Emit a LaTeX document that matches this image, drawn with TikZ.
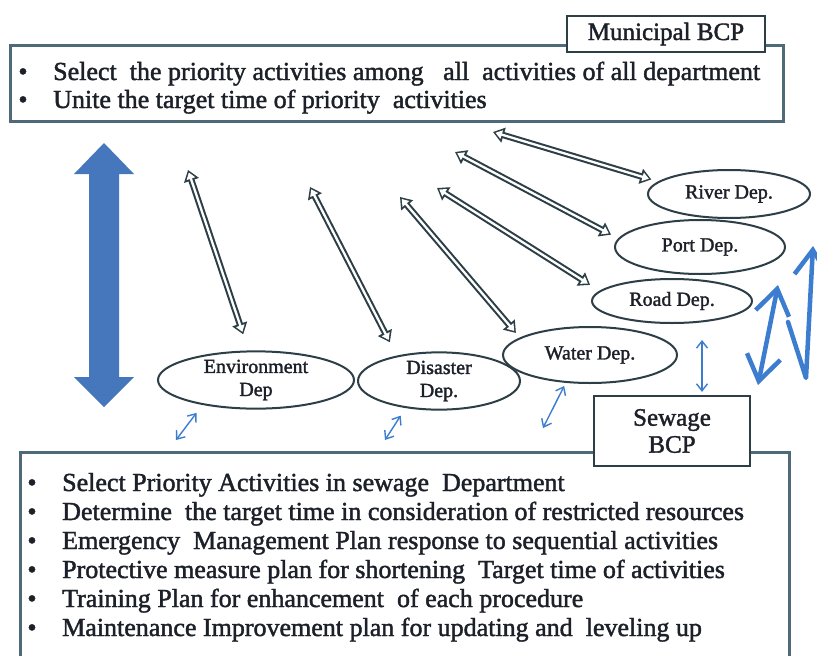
\documentclass[tikz,border=0pt]{standalone}
\usepackage{fontspec}
\setmainfont{Liberation Serif}
\newfontfamily\heavyserif{Liberation Serif}[FakeBold=1.6]
\usetikzlibrary{arrows.meta,shapes.geometric}
\definecolor{frame}{HTML}{4E6A78}
\definecolor{ink}{HTML}{1C2028}
\definecolor{edge}{HTML}{2C3E46}
\definecolor{bigblue}{HTML}{4677BD}
\definecolor{linkblue}{HTML}{3D7DD0}
\tikzset{
  bighead/.tip={Straight Barb[length=25pt,width=34pt]},
  smallhead/.tip={Straight Barb[length=7pt,width=11pt]},
  outerhead/.tip={Triangle[length=11pt,width=15pt]},
  innerhead/.tip={Triangle[length=6.5pt,width=8.5pt]},
}
% hollow two-way arrow: dark body, white core on top
\newcommand{\hollowlink}[3]{%
  \draw[linkouter, shorten >=#3] (#1) -- (#2);
  \draw[linkinner, shorten <=2.6pt, shorten >=#3+2.6pt] (#1) -- (#2);}

\begin{document}
\begin{tikzpicture}[x=1pt,y=-1pt,
  dept/.style={ellipse, draw=edge, line width=2pt, inner sep=0pt,
    font=\heavyserif\fontsize{20}{23}\selectfont, text=ink, align=center},
  panel/.style={draw=frame, line width=3pt, inner sep=0pt},
  tag/.style={draw=edge, fill=white, line width=2.2pt, inner sep=0pt,
    font=\heavyserif\fontsize{25}{27}\selectfont, text=ink, align=center},
  bodytext/.style={anchor=base west, inner sep=0pt,
    font=\heavyserif\fontsize{26}{26}\selectfont, text=ink},
  dot/.style={anchor=base, inner sep=0pt,
    font=\heavyserif\fontsize{26}{26}\selectfont, text=ink},
  linkouter/.style={draw=edge, line width=6.4pt, {outerhead}-{outerhead}},
  linkinner/.style={draw=white, line width=2.3pt, {innerhead}-{innerhead}},
  thinlink/.style={draw=linkblue, line width=1.4pt, {smallhead}-{smallhead}},
  thicklink/.style={draw=linkblue, line width=4.5pt, line cap=round, line join=round},
]
\clip (0,0) rectangle (817,656);
\fill[white] (0,0) rectangle (817,656);

% upper panel: municipal level
\node[panel, minimum width=773pt, minimum height=76pt] (top) at (396.5,83) {};
\node[tag, minimum width=198pt, minimum height=36pt] (muni) at (666,34) {Municipal BCP};
\node[dot] at (23,80) {•};
\node[bodytext] (t1) at (53,80) {Select\ \ the priority activities among\ \ \ all\ \ activities of all department};
\node[dot] at (23,108) {•};
\node[bodytext] (t2) at (53,108) {Unite the target time of priority\ \ activities};

% lower panel: sewage level
\node[panel, minimum width=769pt, minimum height=240pt] (bot) at (404.5,572) {};
\node[tag, minimum width=156pt, minimum height=70pt] (sew) at (672,431) {Sewage\\BCP};
\node[dot] at (32,491) {•};
\node[bodytext] (b1) at (62,491) {Select Priority Activities in sewage\ \ Department};
\node[dot] at (32,520) {•};
\node[bodytext] (b2) at (62,520) {Determine\ \ the target time in consideration of restricted resources};
\node[dot] at (32,549) {•};
\node[bodytext] (b3) at (62,549) {Emergency\ \ Management Plan response to sequential activities};
\node[dot] at (32,578) {•};
\node[bodytext] (b4) at (62,578) {Protective measure plan for shortening\ \ Target time of activities};
\node[dot] at (32,607) {•};
\node[bodytext] (b5) at (62,607) {Training Plan for enhancement\ \ of each procedure};
\node[dot] at (32,636) {•};
\node[bodytext] (b6) at (62,636) {Maintenance Improvement plan for updating and\ \ leveling up};

% departments
\node[dept, minimum width=196pt, minimum height=44pt] (env) at (256,380) {Environment\\Dep};
\node[dept, minimum width=162pt, minimum height=46pt] (dis) at (439,381) {Disaster\\Dep.};
\node[dept, minimum width=174pt, minimum height=56pt] (wat) at (590,355) {Water Dep.};
\node[dept, minimum width=160pt, minimum height=44pt] (road) at (672,301) {Road Dep.};
\node[dept, minimum width=170pt, minimum height=54pt] (port) at (700,247) {Port Dep.};
\node[dept, minimum width=162pt, minimum height=48pt] (river) at (729,194) {River Dep.};

% large two-way arrow between the two levels
\fill[bigblue] (104,143) -- (134,174) -- (119,174) -- (119,377) -- (134,377)
  -- (104,407) -- (74,377) -- (89,377) -- (89,174) -- (74,174) -- cycle;

% links from the municipal plan to each department
\coordinate (envUp)   at (188,170);
\coordinate (disUp)   at (310,187);
\coordinate (watUp)   at (400,197);
\coordinate (roadUp)  at (437,188);
\coordinate (portUp)  at (455,152);
\coordinate (riverUp) at (493,132);
\hollowlink{envUp}{env.104}{17pt}
\hollowlink{disUp}{dis.149}{15pt}
\hollowlink{watUp}{wat.166}{6pt}
\hollowlink{roadUp}{road.172}{11pt}
\hollowlink{portUp}{port.174}{8pt}
\hollowlink{riverUp}{river.170}{7pt}

% links from the departments down to the sewage plan
\coordinate (envDn) at (176,440);
\coordinate (disDn) at (385,440);
\coordinate (watDn) at (543,428);
\draw[thinlink, shorten >=10pt] (envDn) -- (env.205);
\draw[thinlink, shorten >=9pt] (disDn) -- (dis.219);
\draw[thinlink, shorten >=3.5pt] (watDn) -- (wat.229);
\draw[thinlink] ([xshift=30pt,yshift=-16pt]road.south) -- ([xshift=30pt,yshift=3pt]sew.north);

% heavy arrows on the right edge
\coordinate (aBot) at (758,385);
\coordinate (aTop) at (778,285);
\coordinate (bStart) at (788,322);
\coordinate (bCorner) at (806,378);
\coordinate (bTop) at (813,246);
\draw[thicklink, {bighead}-{bighead}] (aBot) -- (aTop);
\draw[thicklink, -{bighead}] (bStart) -- (bCorner) -- (bTop);
\end{tikzpicture}
\end{document}
